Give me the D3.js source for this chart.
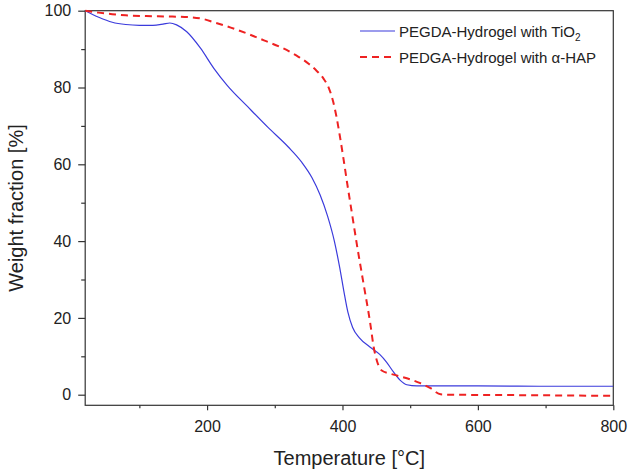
<!DOCTYPE html>
<html><head><meta charset="utf-8">
<script src="https://cdn.jsdelivr.net/npm/d3@7"></script>
<style>
html,body{margin:0;padding:0;background:#fff;}
svg{display:block;font-family:Arial,"Liberation Sans",Helvetica,sans-serif;}
</style></head>
<body>
<svg id="c" width="630" height="473"></svg>
<script>
// ---- data ----
const tempTiO2 = [20,40,60,80,100,120,135,145,155,170,190,210,230,260,290,320,340,355,367,378,388,396,402,408,415,425,440,455,465,475,485,495,510,600,700,800];
const wTiO2    = [100,98.3,97,96.4,96.2,96.2,96.5,96.8,96.3,94.5,90.3,85,80.5,75,69.6,64.5,60.5,56.5,52,46.5,40,33,27,21.5,17.5,14.8,12.5,10.5,8.5,6,3.8,2.6,2.3,2.3,2.2,2.2];
const tempHAP  = [20,40,60,80,110,140,175,195,210,235,260,285,310,335,350,362,372,380,386,391,396,401,407,414,421,431,441,446,452,458,470,480,500,515,530,545,560,650,800];
const wHAP     = [100,99.5,99.1,98.8,98.6,98.5,98.3,97.8,97,95.6,94,92.2,90.4,88,86.2,84.3,82.3,79.8,76.5,72.5,67.5,62,55,47.2,39.4,29,18.6,12.5,8.2,6.3,5.5,5,4,3,1.7,0.1,0,-0.1,-0.3];
const seriesNames = ["PEGDA-Hydrogel with TiO", "PEDGA-Hydrogel with \u03B1-HAP"];
const xTicks = [200,400,600,800];
const xMinor = [100,300,500,700];
const yTicks = [0,20,40,60,80,100];
const yMinor = [10,30,50,70,90];

const svg = d3.select("#c");
const L = 85.2, R = 613.3, T = 10.7, B = 405.3;
const x = d3.scaleLinear().domain([20,800]).range([L,R]);
const y = d3.scaleLinear().domain([-2.76,100]).range([B,T]);
const axisCol = "#333";

// box
svg.append("rect").attr("x",L).attr("y",T).attr("width",R-L).attr("height",B-T)
  .attr("fill","none").attr("stroke",axisCol).attr("stroke-width",1.2);

// axes
function styleAxis(g){
  g.select(".domain").remove();
  g.selectAll("line").attr("stroke",axisCol).attr("stroke-width",1.2);
  g.selectAll("text").attr("fill","#222").style("font-size","16px").style("font-family","Arial, 'Liberation Sans', sans-serif");
}
svg.append("g").attr("transform",`translate(0,${B})`)
  .call(d3.axisBottom(x).tickValues(xTicks).tickSize(5).tickPadding(10).tickFormat(d3.format("d"))).call(styleAxis);
svg.append("g").attr("transform",`translate(0,${B})`)
  .call(d3.axisBottom(x).tickValues(xMinor).tickSize(3).tickFormat("")).call(styleAxis);
svg.append("g").attr("transform",`translate(${L},0)`)
  .call(d3.axisLeft(y).tickValues(yTicks).tickSize(7).tickPadding(7).tickFormat(d3.format("d"))).call(styleAxis);
svg.append("g").attr("transform",`translate(${L},0)`)
  .call(d3.axisLeft(y).tickValues(yMinor).tickSize(4).tickFormat("")).call(styleAxis);

// titles
svg.append("text").attr("x",(L+R)/2).attr("y",465).attr("text-anchor","middle")
  .attr("fill","#222").style("font-size","20px").text("Temperature [\u00B0C]");
svg.append("text").attr("transform",`translate(23,${(T+B)/2}) rotate(-90)`).attr("text-anchor","middle")
  .attr("fill","#222").style("font-size","20px").text("Weight fraction [%]");

// lines
svg.append("clipPath").attr("id","pc").append("rect")
  .attr("x",L).attr("y",T-2).attr("width",R-L).attr("height",B-T+2);
const line = d3.line().x(d=>x(d[0])).y(d=>y(d[1])).curve(d3.curveMonotoneX);
const blueCol = "#3b3bdc", redCol = "#ee2222";
svg.append("path").datum(d3.zip(tempTiO2,wTiO2)).attr("d",line)
  .attr("fill","none").attr("stroke",blueCol).attr("stroke-width",1.2).attr("clip-path","url(#pc)");
svg.append("path").datum(d3.zip(tempHAP,wHAP)).attr("d",line)
  .attr("fill","none").attr("stroke",redCol).attr("stroke-width",2).attr("stroke-dasharray","7,5").attr("clip-path","url(#pc)");

// legend
const lg = svg.append("g");
lg.append("line").attr("x1",360).attr("x2",395).attr("y1",31).attr("y2",31)
  .attr("stroke",blueCol).attr("stroke-width",1.2);
lg.append("line").attr("x1",360).attr("x2",396).attr("y1",57).attr("y2",57)
  .attr("stroke",redCol).attr("stroke-width",2).attr("stroke-dasharray","7,5");
const t1 = lg.append("text").attr("x",399).attr("y",36.5).attr("fill","#222").style("font-size","15px");
t1.append("tspan").text(seriesNames[0]);
t1.append("tspan").attr("dy",4).style("font-size","10px").text("2");
lg.append("text").attr("x",399).attr("y",62.5).attr("fill","#222").style("font-size","15px").text(seriesNames[1]);
</script>
</body></html>
